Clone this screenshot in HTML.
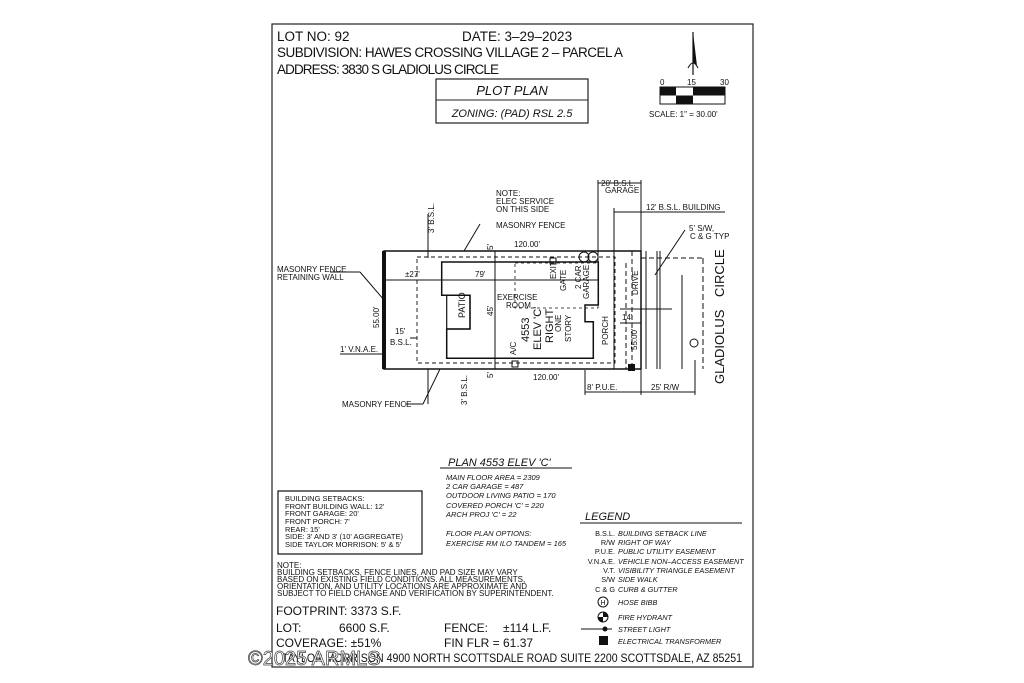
<!DOCTYPE html>
<html><head><meta charset="utf-8"><style>
html,body{margin:0;padding:0;background:#fff;}
svg{display:block;}
text{font-family:"Liberation Sans",sans-serif;fill:#111;}
.i{font-style:italic;}
</style></head><body>
<svg width="1024" height="683" viewBox="0 0 1024 683" xmlns="http://www.w3.org/2000/svg">
<rect x="272" y="24" width="481" height="643" fill="none" stroke="#222" stroke-width="1.2"/>
<!-- header -->
<text x="277" y="41" font-size="13.5">LOT NO: 92</text>
<text x="462" y="41" font-size="13.5">DATE: 3–29–2023</text>
<text x="277" y="57" font-size="13.5" textLength="346">SUBDIVISION: HAWES CROSSING VILLAGE 2 – PARCEL A</text>
<text x="277" y="74" font-size="13.5" textLength="222">ADDRESS: 3830 S GLADIOLUS CIRCLE</text>
<rect x="436" y="79" width="152" height="44" fill="none" stroke="#222" stroke-width="1.2"/>
<line x1="436" y1="100" x2="588" y2="100" stroke="#222"/>
<text x="512" y="95" font-size="13" class="i" text-anchor="middle">PLOT PLAN</text>
<text x="512" y="117" font-size="11" class="i" text-anchor="middle">ZONING: (PAD) RSL 2.5</text>
<!-- north arrow & scale -->
<path d="M693 32 L697 66 L693 62 Z" fill="#111"/>
<line x1="693" y1="32" x2="693" y2="75" stroke="#111" stroke-width="1.2"/>
<path d="M688 68 Q693 58 698 68" fill="none" stroke="#111"/>
<text x="660" y="85" font-size="8">0</text><text x="687" y="85" font-size="8">15</text><text x="720" y="85" font-size="8">30</text>
<rect x="660" y="87" width="65" height="17" fill="#fff" stroke="#111"/>
<rect x="660" y="87" width="16" height="8.5" fill="#111"/>
<rect x="693" y="87" width="32" height="8.5" fill="#111"/>
<rect x="676" y="95.5" width="17" height="8.5" fill="#111"/>
<text x="649" y="117" font-size="8">SCALE: 1" = 30.00'</text>
<!-- lot -->
<g stroke="#111" fill="none">
<rect x="384" y="251" width="257" height="118" stroke-width="1.5"/>
<line x1="384" y1="251" x2="384" y2="369" stroke-width="4"/>
<rect x="417" y="257" width="198" height="106" stroke-dasharray="4,3" stroke-width="0.9"/>
<path d="M441.7 262 H598.3 V305 H585 V321.7 H593.3 V358.3 H446.7 V329 H470 V295.3 H441.7 Z" stroke-width="1.5"/>
<rect x="446.7" y="295.3" width="23.3" height="33.7" stroke-width="1.2"/>
<rect x="515" y="263" width="83" height="45" stroke-dasharray="3,3" stroke-width="0.8"/>
<line x1="495" y1="251" x2="495" y2="369" stroke-width="1"/>
<line x1="384" y1="280" x2="598" y2="280" stroke-width="0.9"/>
<line x1="598" y1="180" x2="598" y2="262"/>
<line x1="614" y1="208" x2="614" y2="369"/>
<line x1="598" y1="183" x2="641" y2="183"/>
<line x1="641" y1="180" x2="641" y2="395"/>
<line x1="614" y1="212" x2="725" y2="212"/>
<line x1="632" y1="251" x2="632" y2="369" stroke-dasharray="5,3"/>
<line x1="626" y1="263" x2="626" y2="369" stroke-dasharray="5,3"/>
<line x1="646" y1="251" x2="646" y2="369"/>
<line x1="657" y1="251" x2="657" y2="369"/>
<line x1="660" y1="251" x2="660" y2="369"/>
<line x1="682" y1="275" x2="682" y2="369"/>
<line x1="703" y1="258" x2="703" y2="369" stroke-dasharray="6,3"/>
<line x1="641" y1="258" x2="705" y2="258" stroke-dasharray="5,3"/>
<line x1="620" y1="309" x2="672" y2="309"/>
<line x1="620" y1="323" x2="641" y2="323"/>
<line x1="585" y1="392" x2="641" y2="392"/>
<line x1="641" y1="392" x2="695" y2="392"/>
<line x1="695" y1="360" x2="695" y2="395"/>
<line x1="585" y1="370" x2="585" y2="395"/>
<line x1="428" y1="214" x2="428" y2="258"/>
<line x1="428" y1="369" x2="428" y2="404"/>
<line x1="410" y1="338" x2="417" y2="338"/>
<line x1="340" y1="354" x2="384" y2="354"/>
<line x1="330" y1="272" x2="360" y2="272"/><line x1="360" y1="272" x2="384" y2="300"/>
<line x1="480" y1="224" x2="464" y2="251"/>
<line x1="405" y1="404" x2="423" y2="404"/><line x1="423" y1="404" x2="440" y2="369"/>
<line x1="685" y1="230" x2="655" y2="275"/>
<rect x="512" y="361" width="6" height="6"/>
<rect x="550" y="258" width="6" height="6"/>
<circle cx="584" cy="257" r="5"/><circle cx="593" cy="257" r="5"/>
<circle cx="694" cy="343" r="4"/>
</g>
<rect x="628" y="364" width="7" height="7" fill="#111"/>
<!-- plan labels -->
<g font-size="8">
<text x="496" y="196">NOTE:</text><text x="496" y="204">ELEC SERVICE</text><text x="496" y="212">ON THIS SIDE</text>
<text x="496" y="228">MASONRY FENCE</text>
<text x="514" y="247">120.00'</text>
<text x="533" y="380">120.00'</text>
<text x="405" y="277">±27'</text>
<text x="475" y="277">79'</text>
<text x="497" y="300">EXERCISE</text><text x="506" y="308">ROOM</text>
<text x="277" y="272">MASONRY FENCE</text><text x="277" y="280">RETAINING WALL</text>
<text x="395" y="334">15'</text><text x="390" y="345">B.S.L.</text>
<text x="340" y="352">1' V.N.A.E.</text>
<text x="342" y="407">MASONRY FENCE</text>
<text x="601" y="186">20' B.S.L.</text><text x="605" y="193">GARAGE</text>
<text x="646" y="210">12' B.S.L. BUILDING</text>
<text x="689" y="231">5' S/W,</text><text x="690" y="239">C &amp; G TYP</text>
<text x="622" y="320">14'</text>
<text x="587" y="390">8' P.U.E.</text>
<text x="651" y="390">25' R/W</text>
<text transform="translate(379,328) rotate(-90)">55.00'</text>
<text transform="translate(637,350) rotate(-90)">55.00'</text>
<text transform="translate(493,316) rotate(-90)">45'</text>
<text transform="translate(465,318) rotate(-90)" font-size="9">PATIO</text>
<text transform="translate(516,355) rotate(-90)">A/C</text>
<text transform="translate(556,279) rotate(-90)">EXIT</text>
<text transform="translate(566,291) rotate(-90)">GATE</text>
<text transform="translate(581,289) rotate(-90)">2 CAR</text>
<text transform="translate(589,299) rotate(-90)">GARAGE</text>
<text transform="translate(638,295) rotate(-90)">DRIVE</text>
<text transform="translate(608,345) rotate(-90)">PORCH</text>
<text transform="translate(561,332) rotate(-90)">ONE</text>
<text transform="translate(571,342) rotate(-90)">STORY</text>
<text transform="translate(434,233) rotate(-90)">3' B.S.L.</text>
<text transform="translate(467,405) rotate(-90)">3' B.S.L.</text>
<text transform="translate(493,250) rotate(-90)">5'</text>
<text transform="translate(493,378) rotate(-90)">5'</text>
</g>
<g font-size="11">
<text transform="translate(529,342) rotate(-90)">4553</text>
<text transform="translate(541,350) rotate(-90)">ELEV 'C'</text>
<text transform="translate(553,343) rotate(-90)">RIGHT</text>
</g>
<g font-size="13">
<text transform="translate(724,297) rotate(-90)">CIRCLE</text>
<text transform="translate(724,384) rotate(-90)">GLADIOLUS</text>
</g>
<!-- plan table -->
<text x="448" y="466" font-size="11" class="i">PLAN 4553 ELEV 'C'</text>
<line x1="440" y1="468" x2="572" y2="468" stroke="#111"/>
<g font-size="7.5" class="i">
<text x="446" y="480">MAIN FLOOR AREA = 2309</text>
<text x="446" y="489">2 CAR GARAGE = 487</text>
<text x="446" y="498">OUTDOOR LIVING PATIO = 170</text>
<text x="446" y="508">COVERED PORCH 'C' = 220</text>
<text x="446" y="517">ARCH PROJ 'C' = 22</text>
<text x="446" y="536">FLOOR PLAN OPTIONS:</text>
<text x="446" y="546">EXERCISE RM ILO TANDEM = 165</text>
</g>
<!-- setbacks box -->
<rect x="278" y="491" width="144" height="63" fill="none" stroke="#111" stroke-width="1.2"/>
<g font-size="7.5">
<text x="285" y="501">BUILDING SETBACKS:</text>
<text x="285" y="509">FRONT BUILDING WALL: 12'</text>
<text x="285" y="516">FRONT GARAGE: 20'</text>
<text x="285" y="524">FRONT PORCH: 7'</text>
<text x="285" y="532">REAR: 15'</text>
<text x="285" y="539">SIDE: 3' AND 3' (10' AGGREGATE)</text>
<text x="285" y="547">SIDE TAYLOR MORRISON: 5' &amp; 5'</text>
</g>
<g font-size="8">
<text x="277" y="568">NOTE:</text>
<text x="277" y="575">BUILDING SETBACKS, FENCE LINES, AND PAD SIZE MAY VARY</text>
<text x="277" y="582">BASED ON EXISTING FIELD CONDITIONS.  ALL MEASUREMENTS,</text>
<text x="277" y="589">ORIENTATION, AND UTILITY LOCATIONS ARE APPROXIMATE AND</text>
<text x="277" y="596">SUBJECT TO FIELD CHANGE AND VERIFICATION BY SUPERINTENDENT.</text>
</g>
<g font-size="12">
<text x="276" y="615">FOOTPRINT: 3373 S.F.</text>
<text x="276" y="632">LOT:</text><text x="339" y="632">6600 S.F.</text>
<text x="276" y="647">COVERAGE: ±51%</text>
<text x="444" y="632">FENCE:</text><text x="503" y="632">±114 L.F.</text>
<text x="444" y="647">FIN FLR =  61.37</text>
<text x="282" y="662" textLength="460" lengthAdjust="spacingAndGlyphs">TAYLOR MORRISON 4900 NORTH SCOTTSDALE ROAD SUITE 2200 SCOTTSDALE, AZ  85251</text>
</g>
<text x="248" y="665" font-size="20" style="fill:#fff;stroke:#444;stroke-width:0.7">©2025 ARMLS</text>
<!-- legend -->
<text x="585" y="520" font-size="11" class="i">LEGEND</text>
<line x1="580" y1="523" x2="742" y2="523" stroke="#111"/>
<g font-size="7.3">
<g text-anchor="end">
<text x="615" y="536">B.S.L.</text><text x="615" y="545">R/W</text><text x="615" y="554">P.U.E.</text>
<text x="615" y="564">V.N.A.E.</text><text x="615" y="573">V.T.</text><text x="615" y="582">S/W</text>
<text x="615" y="592">C &amp; G</text>
</g>
<g class="i">
<text x="618" y="536">BUILDING SETBACK LINE</text><text x="618" y="545">RIGHT OF WAY</text>
<text x="618" y="554">PUBLIC UTILITY EASEMENT</text><text x="618" y="564">VEHICLE NON–ACCESS EASEMENT</text>
<text x="618" y="573">VISIBILITY TRIANGLE EASEMENT</text><text x="618" y="582">SIDE WALK</text>
<text x="618" y="592">CURB &amp; GUTTER</text><text x="618" y="605">HOSE BIBB</text>
<text x="618" y="620">FIRE HYDRANT</text><text x="618" y="632">STREET LIGHT</text>
<text x="618" y="644">ELECTRICAL TRANSFORMER</text>
</g>
</g>
<circle cx="603" cy="602" r="5" fill="none" stroke="#111"/><text x="600.5" y="605" font-size="7">H</text>
<circle cx="603" cy="617" r="5" fill="#fff" stroke="#111"/>
<path d="M603 612 A5 5 0 0 1 608 617 L603 617 Z M603 622 A5 5 0 0 1 598 617 L603 617 Z" fill="#111"/>
<line x1="581" y1="629" x2="612" y2="629" stroke="#111"/><circle cx="605" cy="629" r="2.5" fill="#111"/>
<rect x="599" y="636" width="9" height="9" fill="#111"/>
</svg>
</body></html>
